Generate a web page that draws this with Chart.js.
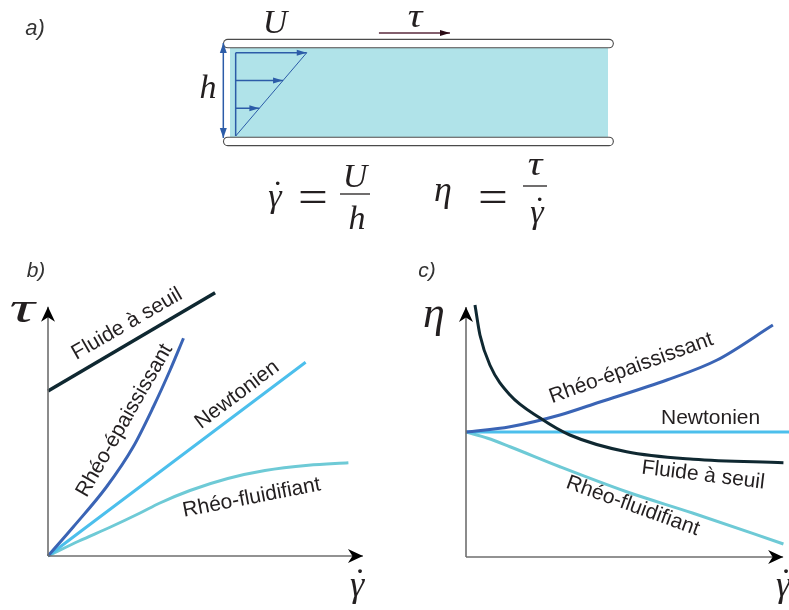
<!DOCTYPE html>
<html>
<head>
<meta charset="utf-8">
<script src="https://cdn.jsdelivr.net/npm/chart.js@4.4.1/dist/chart.umd.min.js"></script>
<style>
  body { margin: 0; background: #fff; }
  #page { position: relative; width: 789px; height: 610px; overflow: hidden; }
  canvas { position: absolute; }
  #chA { left: 0; top: 0; }
  #chB { left: 0; top: 250px; }
  #chC { left: 400px; top: 250px; }
</style>
</head>
<body>
<div id="page">
  <canvas id="chA" width="789" height="250"></canvas>
  <canvas id="chB" width="400" height="360"></canvas>
  <canvas id="chC" width="389" height="360"></canvas>
</div>
<script>
// b) contrainte tau en fonction du taux de cisaillement
const bSeuilX = [0, 5.39];
const bSeuilY = [6.6, 10.53];
const bEpaisX = [0, 0.82, 1.89, 2.75, 3.4, 3.94, 4.37];
const bEpaisY = [0, 1.17, 2.77, 4.37, 5.97, 7.44, 8.71];
const bNewtX = [0, 8.31];
const bNewtY = [0, 7.75];
const bFluidX = [0, 1.0, 2.0, 2.97, 3.61, 4.58, 5.8, 7.0, 8.4, 9.69];
const bFluidY = [0, 0.6, 1.15, 1.72, 2.12, 2.62, 3.1, 3.42, 3.63, 3.73];

// c) viscosite eta en fonction du taux de cisaillement
const cNewtX = [0, 10.5];
const cNewtY = [5, 5];
const cEpaisX = [0, 1.42, 3.03, 4.32, 6.48, 8.1, 9.9];
const cEpaisY = [5, 5.21, 5.68, 6.2, 7.08, 7.88, 9.28];
const cSeuilX = [0.29, 0.45, 0.77, 1.42, 2.39, 3.35, 5.18, 7.33, 10.24];
const cSeuilY = [10.08, 8.88, 7.68, 6.48, 5.56, 4.88, 4.21, 3.91, 3.77];
const cFluidX = [0, 0.7, 1.42, 3.03, 5.18, 7.33, 10.24];
const cFluidY = [5, 4.75, 4.41, 3.61, 2.61, 1.75, 0.52];

// a) profil de vitesse lineaire entre les plaques (u = U * y / h)
const profileFrac = [1 / 3, 2 / 3, 1];
const wallSpeed = 0.188;

const SANS = '"Liberation Sans", Arial, sans-serif';
const SERIF = '"Liberation Serif", "Times New Roman", serif';
const INK = '#231f20';

const colSeuil = '#0f2831';
const colEpais = '#3a64b5';
const colNewt = '#4cbfec';
const colFluid = '#6ecad6';
const colAxis = '#6e6e6e';
const colProfile = '#2c5ca8';

// pointes de fleche au bout des traits
function head(ctx, from, to, a) {
  const ang = Math.atan2(to.y - from.y, to.x - from.x);
  ctx.save();
  ctx.translate(to.x, to.y);
  ctx.rotate(ang);
  ctx.fillStyle = a.color;
  ctx.beginPath();
  ctx.moveTo(0, 0);
  ctx.lineTo(-a.len, -a.w / 2);
  ctx.lineTo(-a.len * (1 - (a.notch || 0)), 0);
  ctx.lineTo(-a.len, a.w / 2);
  ctx.closePath();
  ctx.fill();
  ctx.restore();
}

const arrowPlugin = {
  id: 'arrows',
  afterDatasetsDraw(chart) {
    const ctx = chart.ctx;
    chart.data.datasets.forEach((ds, i) => {
      if (!ds.arrow) return;
      const pts = chart.getDatasetMeta(i).data;
      if (ds.arrow.end) head(ctx, pts[pts.length - 2], pts[pts.length - 1], ds.arrow);
      if (ds.arrow.start) head(ctx, pts[1], pts[0], ds.arrow);
    });
  }
};

// textes : soit en coordonnees des axes (x, y), soit en pixels (px, py)
function textPlugin(items) {
  return {
    id: 'texts',
    afterDatasetsDraw(chart) {
      const { ctx, scales } = chart;
      items.forEach(t => {
        const X = t.px !== undefined ? t.px : scales.x.getPixelForValue(t.x);
        const Y = t.py !== undefined ? t.py : scales.y.getPixelForValue(t.y);
        ctx.save();
        ctx.translate(X, Y);
        ctx.rotate((t.rot || 0) * Math.PI / 180);
        if (t.sx) ctx.scale(t.sx, 1);
        ctx.font = t.font;
        ctx.fillStyle = t.color || INK;
        ctx.textAlign = 'center';
        ctx.textBaseline = t.base || 'middle';
        ctx.fillText(t.text, 0, 0);
        ctx.restore();
      });
      (chart.options.bars || []).forEach(b => {
        ctx.save();
        ctx.strokeStyle = INK;
        ctx.lineWidth = 1.3;
        ctx.beginPath();
        ctx.moveTo(b[0], b[2]);
        ctx.lineTo(b[1], b[2]);
        ctx.stroke();
        ctx.restore();
      });
    }
  };
}

// gamma point
function gdot(px, py, size) {
  const f = 'italic ' + size + 'px ' + SERIF;
  return [
    { text: 'γ', px: px, py: py, font: f, base: 'alphabetic' },
    { text: '˙', px: px + size * 0.08, py: py - size * 0.08, font: size + 'px ' + SERIF, base: 'alphabetic' }
  ];
}

function lineSet(xs, ys, color, width, extra) {
  return Object.assign({
    data: xs.map((x, i) => ({ x: x, y: ys[i] })),
    borderColor: color,
    borderWidth: width,
    pointRadius: 0,
    fill: false,
    cubicInterpolationMode: 'monotone',
    borderCapStyle: 'butt'
  }, extra || {});
}

function makeChart(id, xr, yr, datasets, texts, bars) {
  return new Chart(document.getElementById(id), {
    type: 'line',
    data: { datasets: datasets },
    options: {
      responsive: false,
      animation: false,
      devicePixelRatio: 1,
      events: [],
      layout: { padding: 0 },
      bars: bars || [],
      plugins: { legend: { display: false }, tooltip: { enabled: false } },
      scales: {
        x: { type: 'linear', min: xr[0], max: xr[1], display: false },
        y: { type: 'linear', min: yr[0], max: yr[1], display: false }
      }
    },
    plugins: [arrowPlugin, textPlugin(texts)]
  });
}

const axisHead = { end: true, len: 15, w: 14, notch: 0.3, color: '#000' };

// ---------- a) ----------
const x0 = 0.015, y0 = 0.011, yTop = 0.947;
const aSets = [
  lineSet([0, 1], [1, 1], 'rgba(0,0,0,0)', 0, { fill: { value: 0 }, backgroundColor: '#b0e3e9', order: 10 }),
  lineSet([-0.006, 1.003], [1.05, 1.05], '#4a4a4a', 9.5, { borderCapStyle: 'round', order: 8 }),
  lineSet([-0.006, 1.003], [1.05, 1.05], '#ffffff', 7.3, { borderCapStyle: 'round', order: 7 }),
  lineSet([-0.006, 1.003], [-0.05, -0.05], '#4a4a4a', 9.5, { borderCapStyle: 'round', order: 8 }),
  lineSet([-0.006, 1.003], [-0.05, -0.05], '#ffffff', 7.3, { borderCapStyle: 'round', order: 7 }),
  lineSet([x0, x0], [y0, yTop], colProfile, 1.5),
  lineSet([x0, x0 + wallSpeed], [y0, yTop], colProfile, 1),
  lineSet([-0.0177, -0.0177], [-0.011, 1.056], colProfile, 1.5,
    { arrow: { start: true, end: true, len: 10, w: 7, color: colProfile } }),
  lineSet([0.394, 0.582], [1.169, 1.169], '#5a2a3c', 1.5,
    { arrow: { end: true, len: 10, w: 6, color: '#2a0a14' } })
];
profileFrac.forEach(f => {
  const yy = y0 + (yTop - y0) * f;
  aSets.push(lineSet([x0, x0 + wallSpeed * f], [yy, yy], colProfile, 1.5,
    { arrow: { end: true, len: 10, w: 6, color: colProfile } }));
});
const M = 34;
const aTexts = [
  { text: 'a)', px: 35, py: 29, font: 'italic 22px ' + SANS, color: '#333' },
  { text: 'U', px: 275, py: 33, font: 'italic ' + M + 'px ' + SERIF, base: 'alphabetic' },
  { text: 'τ', px: 415, py: 27, font: 'italic ' + M + 'px ' + SERIF, base: 'alphabetic', sx: 1.2 },
  { text: 'h', px: 208, py: 98, font: 'italic ' + M + 'px ' + SERIF, base: 'alphabetic' },
  ...gdot(275, 207, M),
  { text: '=', px: 313, py: 212, font: '46px ' + SERIF, base: 'alphabetic', sx: 1.15 },
  { text: 'U', px: 355, py: 187, font: 'italic ' + M + 'px ' + SERIF, base: 'alphabetic' },
  { text: 'h', px: 357, py: 229, font: 'italic ' + M + 'px ' + SERIF, base: 'alphabetic' },
  { text: 'η', px: 443, py: 201, font: 'italic 36px ' + SERIF, base: 'alphabetic' },
  { text: '=', px: 493, py: 212, font: '46px ' + SERIF, base: 'alphabetic', sx: 1.15 },
  { text: 'τ', px: 535, py: 175, font: 'italic ' + M + 'px ' + SERIF, base: 'alphabetic', sx: 1.2 },
  ...gdot(537, 223, M)
];
const aBars = [[340, 370, 194], [523, 547, 186]];
makeChart('chA', [-230 / 378, 559 / 378], [-113 / 89, 137 / 89], aSets, aTexts, aBars);

// ---------- b) ----------
const LBL = '21px ' + SANS;
const bSets = [
  lineSet(bSeuilX, bSeuilY, colSeuil, 3.5),
  lineSet(bEpaisX, bEpaisY, colEpais, 3),
  lineSet(bNewtX, bNewtY, colNewt, 3),
  lineSet(bFluidX, bFluidY, colFluid, 3),
  lineSet([0, 0], [0, 9.97], colAxis, 1.6, { arrow: axisHead, order: -1 }),
  lineSet([0, 10.16], [0, 0], colAxis, 1.6, { arrow: axisHead, order: -1 })
];
const bTexts = [
  { text: 'b)', px: 36, py: 21, font: 'italic 21px ' + SANS, color: '#333' },
  { text: 'Fluide à seuil', x: 2.55, y: 9.28, rot: -30, font: LBL },
  { text: 'Rhéo-épaississant', x: 2.47, y: 5.42, rot: -60, font: LBL },
  { text: 'Newtonien', x: 6.1, y: 6.45, rot: -37, font: LBL },
  { text: 'Rhéo-fluidifiant', x: 6.57, y: 2.33, rot: -11, font: LBL },
  { text: 'τ', px: 22, py: 72, font: 'italic 44px ' + SERIF, base: 'alphabetic', sx: 1.6 },
  ...gdot(357, 346, 36)
];
makeChart('chB', [-48 / 31, 352 / 31], [-54 / 25, 306 / 25], bSets, bTexts);

// ---------- c) ----------
const cSets = [
  lineSet(cSeuilX, cSeuilY, colSeuil, 3),
  lineSet(cEpaisX, cEpaisY, colEpais, 3),
  lineSet(cNewtX, cNewtY, colNewt, 3),
  lineSet(cFluidX, cFluidY, colFluid, 3),
  lineSet([0, 0], [0, 10], colAxis, 1.6, { arrow: axisHead, order: -1 }),
  lineSet([0, 10.23], [0, 0], colAxis, 1.6, { arrow: axisHead, order: -1 })
];
const cTexts = [
  { text: 'c)', px: 27, py: 21, font: 'italic 21px ' + SANS, color: '#333' },
  { text: 'Rhéo-épaississant', x: 5.33, y: 7.55, rot: -20, font: LBL },
  { text: 'Newtonien', x: 7.89, y: 5.56, rot: 0, font: LBL },
  { text: 'Fluide à seuil', x: 7.65, y: 3.27, rot: 7, font: LBL },
  { text: 'Rhéo-fluidifiant', x: 5.38, y: 2.04, rot: 20, font: LBL },
  { text: 'η', px: 34, py: 77, font: 'italic 44px ' + SERIF, base: 'alphabetic' },
  ...gdot(383, 346, 36)
];
makeChart('chC', [-66 / 31, 323 / 31], [-53 / 25, 307 / 25], cSets, cTexts);
</script>
</body>
</html>
